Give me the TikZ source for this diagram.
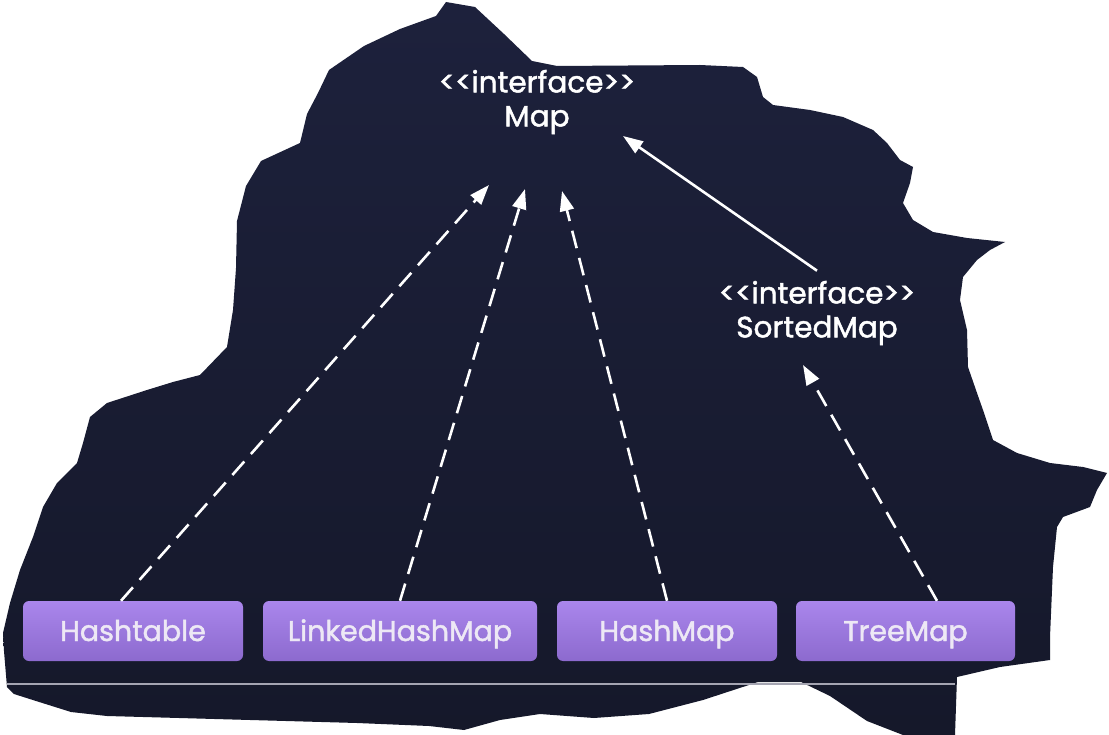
\documentclass[tikz,border=0pt]{standalone}
\usepackage{fontspec}
\newfontfamily\pop{Poppins}[FakeBold=1.6]
\usetikzlibrary{arrows.meta,calc}
\definecolor{navytop}{RGB}{29,33,60}
\definecolor{navybot}{RGB}{21,24,42}
\definecolor{boxtop}{RGB}{170,134,236}
\definecolor{boxbot}{RGB}{140,106,206}
\definecolor{boxtext}{RGB}{237,232,245}
\definecolor{rulegray}{RGB}{165,165,178}
\begin{document}
\begin{tikzpicture}[x=1pt,y=-1pt,
  cls/.style={rounded corners=6pt, top color=boxtop, bottom color=boxbot,
    minimum height=60pt, inner sep=0pt, text=boxtext,
    font=\pop\fontsize{28.5}{32}\selectfont, text height=20pt, text depth=0pt},
  iface/.style={align=center, text=white, inner sep=0pt,
    font=\pop\fontsize{29.5}{34}\selectfont},
  impl/.style={draw=white, line width=2.6pt, dash pattern=on 18pt off 10pt,
    -{Triangle[length=20pt,width=14pt]}},
  ext/.style={draw=white, line width=2.6pt, -{Triangle[length=20pt,width=14pt]}}]
\useasboundingbox (0,0) rectangle (1109,735);
\fill[white] (0,0) rectangle (1109,735);
% dark backdrop
\shade[top color=navytop, bottom color=navybot]
 (446,2) -- (475,7) -- (504,34) -- (532,61) -- (557,66) -- (700,65) -- (743,67)
 -- (757,77) -- (763,97) -- (773,105) -- (810,110) -- (843,117) -- (873,130)
 -- (887,143) -- (900,160) -- (913,167) -- (910,183) -- (903,203) -- (913,220)
 -- (933,232) -- (967,238) -- (1005,242) -- (990,250) -- (977,260) -- (963,277)
 -- (960,300) -- (967,330) -- (968,367) -- (977,393) -- (983,410) -- (993,440)
 -- (1017,453) -- (1050,463) -- (1083,467) -- (1107,473) -- (1097,490)
 -- (1090,507) -- (1063,517) -- (1057,527) -- (1053,567) -- (1050,637)
 -- (1050,660) -- (1000,667) -- (957,677) -- (955,735) -- (903,735)
 -- (867,721) -- (830,696) -- (801,682) -- (758,682) -- (703,700) -- (649,714)
 -- (594,718) -- (540,714) -- (500,720) -- (464,730) -- (429,726) -- (357,723)
 -- (179,718) -- (107,716) -- (71,712) -- (36,701) -- (14,694) -- (7,687)
 -- (4,651) -- (3,633) -- (10,603) -- (20,570) -- (33,537) -- (43,507)
 -- (57,483) -- (77,463) -- (83,443) -- (90,417) -- (107,403) -- (147,390)
 -- (173,382) -- (200,375) -- (227,347) -- (233,310) -- (236,268) -- (237,221)
 -- (246,186) -- (261,161) -- (300,143) -- (307,114) -- (318,93) -- (329,70)
 -- (364,46) -- (400,29) -- (436,16) -- cycle;
% floor rule
\draw[rulegray, line width=2.2pt] (7,684) -- (955,684);
% nodes
\node[iface] (map) at (537,102) {<<interface>>\\Map};
\node[iface] (sm) at (817,313) {<<interface>>\\SortedMap};
\node[cls, minimum width=220pt] (ht) at (133,631) {Hashtable};
\node[cls, minimum width=274pt] (lh) at (400,631) {LinkedHashMap};
\node[cls, minimum width=220pt] (hm) at (667,631) {HashMap};
\node[cls, minimum width=219pt] (tm) at (905.5,631) {TreeMap};
% arrow ends
\coordinate (mA) at (489,185);
\coordinate (mB) at (525,189);
\coordinate (mC) at (562,191);
\coordinate (mS) at (623,136);
\coordinate (sT) at (803,365);
% connectors
\draw[impl] ([xshift=-12pt]ht.north) -- (mA);
\draw[impl] (lh.north) -- (mB);
\draw[impl] (hm.north) -- (mC);
\draw[impl] ([xshift=31.5pt]tm.north) -- (sT);
\draw[ext] ([yshift=10pt]sm.north) -- (mS);
\end{tikzpicture}
\end{document}
